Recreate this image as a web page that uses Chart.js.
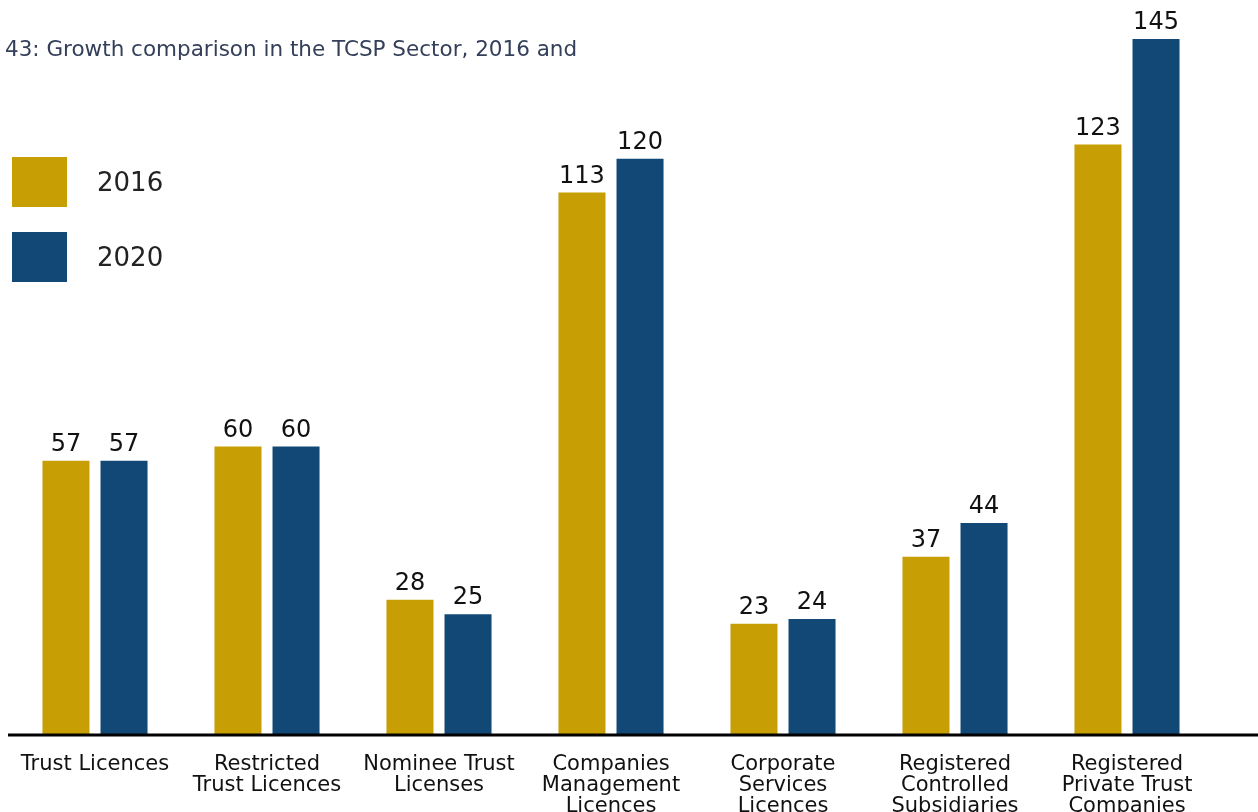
<!DOCTYPE html>
<html>
<head>
<meta charset="utf-8">
<script src="https://cdn.jsdelivr.net/npm/chart.js@4.4.1/dist/chart.umd.min.js"></script>
<style>
    html, body { margin: 0; padding: 0; background: #ffffff; overflow: hidden; }
    #wrap { position: relative; width: 1258px; height: 812px; overflow: hidden; }
    #chart-title {
        position: absolute; left: 5px; top: 36px;
        font-family: 'DejaVu Sans', Verdana, sans-serif; font-size: 21.5px;
        color: #34405a; white-space: nowrap;
    }
</style>
</head>
<body>
<div id="wrap">
    <canvas id="tcsp-chart" width="1258" height="829"></canvas>
    <div id="chart-title">43: Growth comparison in the TCSP Sector, 2016 and</div>
</div>
<script>
const categories = [
    ['Trust Licences'],
    ['Restricted', 'Trust Licences'],
    ['Nominee Trust', 'Licenses'],
    ['Companies', 'Management', 'Licences'],
    ['Corporate', 'Services', 'Licences'],
    ['Registered', 'Controlled', 'Subsidiaries'],
    ['Registered', 'Private Trust', 'Companies']
];
const values2016 = [57, 60, 28, 113, 23, 37, 123];
const values2020 = [57, 60, 25, 120, 24, 44, 145];

const gold = '#c79f05';
const navy = '#114876';
const fontFamily = "'DejaVu Sans', Verdana, sans-serif";

// value labels above each bar
const barLabels = {
    id: 'barLabels',
    afterDatasetsDraw(chart) {
        const ctx = chart.ctx;
        ctx.save();
        ctx.font = '24px ' + fontFamily;
        ctx.fillStyle = '#111111';
        ctx.textAlign = 'center';
        ctx.textBaseline = 'bottom';
        chart.data.datasets.forEach((ds, i) => {
            chart.getDatasetMeta(i).data.forEach((bar, j) => {
                ctx.fillText(ds.data[j], bar.x, bar.y - 4);
            });
        });
        ctx.restore();
    }
};

// baseline across the full width
const baseLine = {
    id: 'baseLine',
    afterDatasetsDraw(chart) {
        const ctx = chart.ctx;
        const y = chart.scales.y.getPixelForValue(0);
        ctx.save();
        ctx.strokeStyle = '#000000';
        ctx.lineWidth = 3;
        ctx.beginPath();
        ctx.moveTo(8, y + 1);
        ctx.lineTo(chart.width, y + 1);
        ctx.stroke();
        ctx.restore();
    }
};

// big square legend on the left
const sideLegend = {
    id: 'sideLegend',
    afterDraw(chart) {
        const ctx = chart.ctx;
        ctx.save();
        ctx.font = '26px ' + fontFamily;
        ctx.textBaseline = 'middle';
        chart.data.datasets.forEach((ds, i) => {
            const top = 157 + i * 75;
            ctx.fillStyle = ds.backgroundColor;
            ctx.fillRect(12, top, 55, 50);
            ctx.fillStyle = '#222222';
            ctx.fillText(ds.label, 97, top + 27);
        });
        ctx.restore();
    }
};

const ctx = document.getElementById('tcsp-chart').getContext('2d');
new Chart(ctx, {
    type: 'bar',
    data: {
        labels: categories,
        datasets: [
            { label: '2016', data: values2016, backgroundColor: gold },
            { label: '2020', data: values2020, backgroundColor: navy }
        ]
    },
    options: {
        responsive: false,
        animation: false,
        layout: { padding: { left: 9, right: 45, top: 39, bottom: 0 } },
        datasets: {
            bar: { categoryPercentage: 0.675, barPercentage: 0.81 }
        },
        scales: {
            x: {
                grid: { display: false },
                border: { display: false },
                ticks: {
                    color: '#111111',
                    padding: 12,
                    maxRotation: 0,
                    autoSkip: false,
                    font: { family: fontFamily, size: 21, lineHeight: 1.0 }
                }
            },
            y: {
                display: false,
                min: 0,
                max: 145
            }
        },
        plugins: {
            legend: { display: false },
            tooltip: { enabled: false }
        }
    },
    plugins: [barLabels, baseLine, sideLegend]
});
</script>
</body>
</html>
